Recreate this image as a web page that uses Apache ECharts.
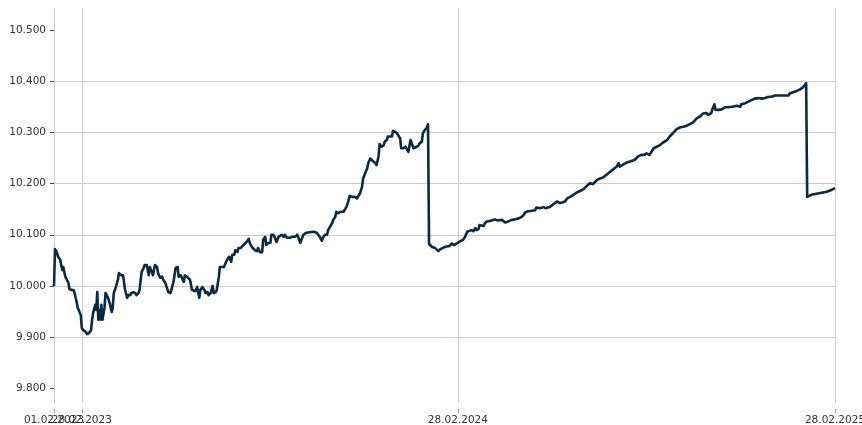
<!DOCTYPE html>
<html>
<head>
<meta charset="utf-8">
<script src="https://cdn.jsdelivr.net/npm/echarts@6/dist/echarts.min.js"></script>
<style>
html,body{margin:0;padding:0;background:#fff;}
#chart{width:862px;height:425px;}
</style>
</head>
<body>
<div id="chart"></div>
<script>
// Days since 01.02.2023
var dayOffsets = [0,1,3,4,6,7,8,9,10,11,12,14,15,17,19,20,21,22,23,24,26,27,28,31,32,34,36,37,38,40,41,42,43,44,45,46,47,49,50,52,54,56,57,58,60,62,63,65,67,69,71,72,74,75,77,79,80,82,83,85,87,88,90,92,93,95,96,98,100,101,103,105,106,108,111,113,114,116,118,120,121,123,125,126,127,129,130,132,134,135,137,139,140,141,142,144,146,147,149,150,152,154,155,157,158,160,161,163,165,167,168,170,172,173,175,176,178,179,181,182,184,185,187,189,190,192,193,195,197,198,200,202,203,205,206,208,210,211,213,214,216,218,219,221,223,224,226,227,229,231,232,234,236,237,239,242,245,248,252,255,258,260,261,263,265,266,268,270,271,273,274,276,278,279,281,282,284,286,287,289,290,292,294,295,297,299,300,302,304,305,307,308,310,312,313,315,316,318,320,321,323,324,326,328,329,331,333,334,336,337,339,341,342,344,346,347,349,350,352,354,355,357,358,360,362,363,364,367,370,373,375,378,381,384,386,388,391,392,394,397,399,401,402,405,407,409,410,412,413,417,418,420,423,426,428,430,431,435,436,438,439,441,444,447,451,454,456,457,460,464,467,468,472,475,477,478,481,485,488,489,491,493,496,498,501,502,504,507,511,514,517,520,523,527,530,533,536,538,541,544,546,548,549,553,556,559,562,564,567,570,573,575,578,582,585,588,591,595,598,601,604,608,611,614,617,620,624,627,630,633,635,638,639,641,642,645,648,651,654,658,659,663,666,667,671,674,677,680,684,687,690,693,697,700,703,706,710,713,714,718,721,724,727,730,731,735,740,745,750,755,758];
var values = [10.000,10.072,10.064,10.057,10.051,10.041,10.031,10.037,10.027,10.018,10.016,10.006,9.994,9.992,9.992,9.986,9.977,9.969,9.957,9.953,9.943,9.918,9.914,9.910,9.906,9.908,9.914,9.934,9.947,9.963,9.953,9.988,9.934,9.953,9.934,9.963,9.934,9.957,9.986,9.979,9.967,9.949,9.957,9.986,9.998,10.012,10.025,10.021,10.021,9.992,9.977,9.982,9.982,9.986,9.988,9.986,9.982,9.986,9.992,10.027,10.035,10.041,10.041,10.021,10.037,10.027,10.021,10.041,10.037,10.025,10.016,10.018,10.012,10.006,9.988,9.986,9.988,10.008,10.035,10.037,10.018,10.021,10.012,10.008,10.021,10.018,10.021,10.012,9.992,9.992,9.990,9.998,9.986,9.977,9.992,9.998,9.992,9.986,9.988,9.982,9.986,10.000,9.986,9.988,9.992,10.018,10.037,10.037,10.037,10.047,10.051,10.057,10.047,10.061,10.061,10.070,10.066,10.074,10.074,10.076,10.080,10.080,10.086,10.092,10.084,10.076,10.074,10.070,10.068,10.074,10.066,10.066,10.090,10.096,10.080,10.084,10.084,10.100,10.100,10.096,10.086,10.096,10.096,10.100,10.096,10.100,10.094,10.096,10.094,10.096,10.096,10.096,10.100,10.096,10.084,10.100,10.104,10.105,10.106,10.104,10.096,10.088,10.094,10.100,10.100,10.109,10.116,10.123,10.129,10.135,10.145,10.142,10.145,10.142,10.145,10.142,10.155,10.168,10.176,10.174,10.171,10.174,10.171,10.174,10.181,10.194,10.210,10.220,10.230,10.240,10.249,10.249,10.243,10.240,10.236,10.253,10.277,10.272,10.275,10.282,10.285,10.292,10.292,10.292,10.303,10.301,10.298,10.295,10.288,10.269,10.269,10.272,10.270,10.262,10.285,10.282,10.269,10.266,10.272,10.275,10.279,10.282,10.298,10.305,10.309,10.316,10.082,10.076,10.074,10.068,10.072,10.075,10.077,10.078,10.083,10.080,10.083,10.080,10.087,10.090,10.096,10.106,10.106,10.109,10.107,10.113,10.109,10.111,10.119,10.117,10.122,10.126,10.127,10.129,10.130,10.128,10.130,10.129,10.130,10.124,10.121,10.126,10.129,10.130,10.132,10.135,10.139,10.143,10.146,10.147,10.148,10.153,10.152,10.154,10.152,10.154,10.154,10.160,10.165,10.166,10.162,10.163,10.165,10.171,10.174,10.171,10.178,10.182,10.186,10.189,10.195,10.201,10.199,10.207,10.210,10.212,10.217,10.220,10.225,10.230,10.233,10.240,10.233,10.238,10.241,10.243,10.245,10.247,10.253,10.256,10.256,10.259,10.256,10.269,10.272,10.275,10.280,10.285,10.293,10.299,10.306,10.310,10.311,10.313,10.316,10.319,10.328,10.331,10.337,10.338,10.334,10.338,10.345,10.355,10.344,10.344,10.345,10.349,10.349,10.350,10.347,10.352,10.350,10.355,10.357,10.360,10.363,10.366,10.367,10.366,10.367,10.369,10.370,10.372,10.372,10.372,10.372,10.372,10.376,10.379,10.381,10.384,10.388,10.396,10.174,10.178,10.180,10.182,10.184,10.188,10.191];
var xTickDays = [0, 392, 758];
var xTickLabels = ['01.02.2023', '28.02.2024', '28.02.2025'];
var xTickDays2 = [27];
var xTickLabels2 = ['28.02.2023'];
var yTicks = [9.8, 9.9, 10.0, 10.1, 10.2, 10.3, 10.4, 10.5];

var seriesData = dayOffsets.map(function (d, i) { return [d, values[i]]; });

var font = 'DejaVu Sans';
function xAxisDef(days, labels) {
  return {
    type: 'value',
    position: 'bottom',
    min: 0,
    max: 758,
    offset: 6,
    axisLine: {show: false},
    axisTick: {show: true, length: 4, customValues: days, lineStyle: {color: '#999999', width: 1}},
    axisLabel: {
      customValues: days,
      margin: 6,
      color: '#333333',
      fontFamily: font,
      fontSize: 10.5,
      hideOverlap: false,
      showMinLabel: true,
      showMaxLabel: true,
      formatter: function (v) {
        var i = days.indexOf(Math.round(v));
        return i >= 0 ? labels[i] : '';
      }
    },
    splitLine: {show: true, lineStyle: {color: '#cccccc', width: 1}}
  };
}

var chart = echarts.init(document.getElementById('chart'), null, {renderer: 'canvas'});
chart.setOption({
  animation: false,
  backgroundColor: '#ffffff',
  grid: {left: 54, right: 27, top: 8, bottom: 22, containLabel: false, outerBoundsMode: 'none'},
  xAxis: [xAxisDef(xTickDays, xTickLabels), xAxisDef(xTickDays2, xTickLabels2)],
  yAxis: {
    type: 'value',
    min: 9.7713,
    max: 10.543,
    axisLine: {show: false},
    axisTick: {show: true, length: 4, customValues: yTicks, lineStyle: {color: '#444444', width: 1}},
    axisLabel: {
      customValues: yTicks,
      margin: 8,
      color: '#333333',
      fontFamily: font,
      fontSize: 10.5,
      formatter: function (v) { return v.toFixed(3); }
    },
    splitLine: {show: true, showMinLine: false, showMaxLine: false, lineStyle: {color: '#cccccc', width: 1}}
  },
  series: [{
    type: 'line',
    xAxisIndex: 0,
    data: seriesData,
    showSymbol: false,
    symbol: 'none',
    lineStyle: {color: '#0c2942', width: 2.6, join: 'round'},
    z: 3
  }]
});
</script>
</body>
</html>
